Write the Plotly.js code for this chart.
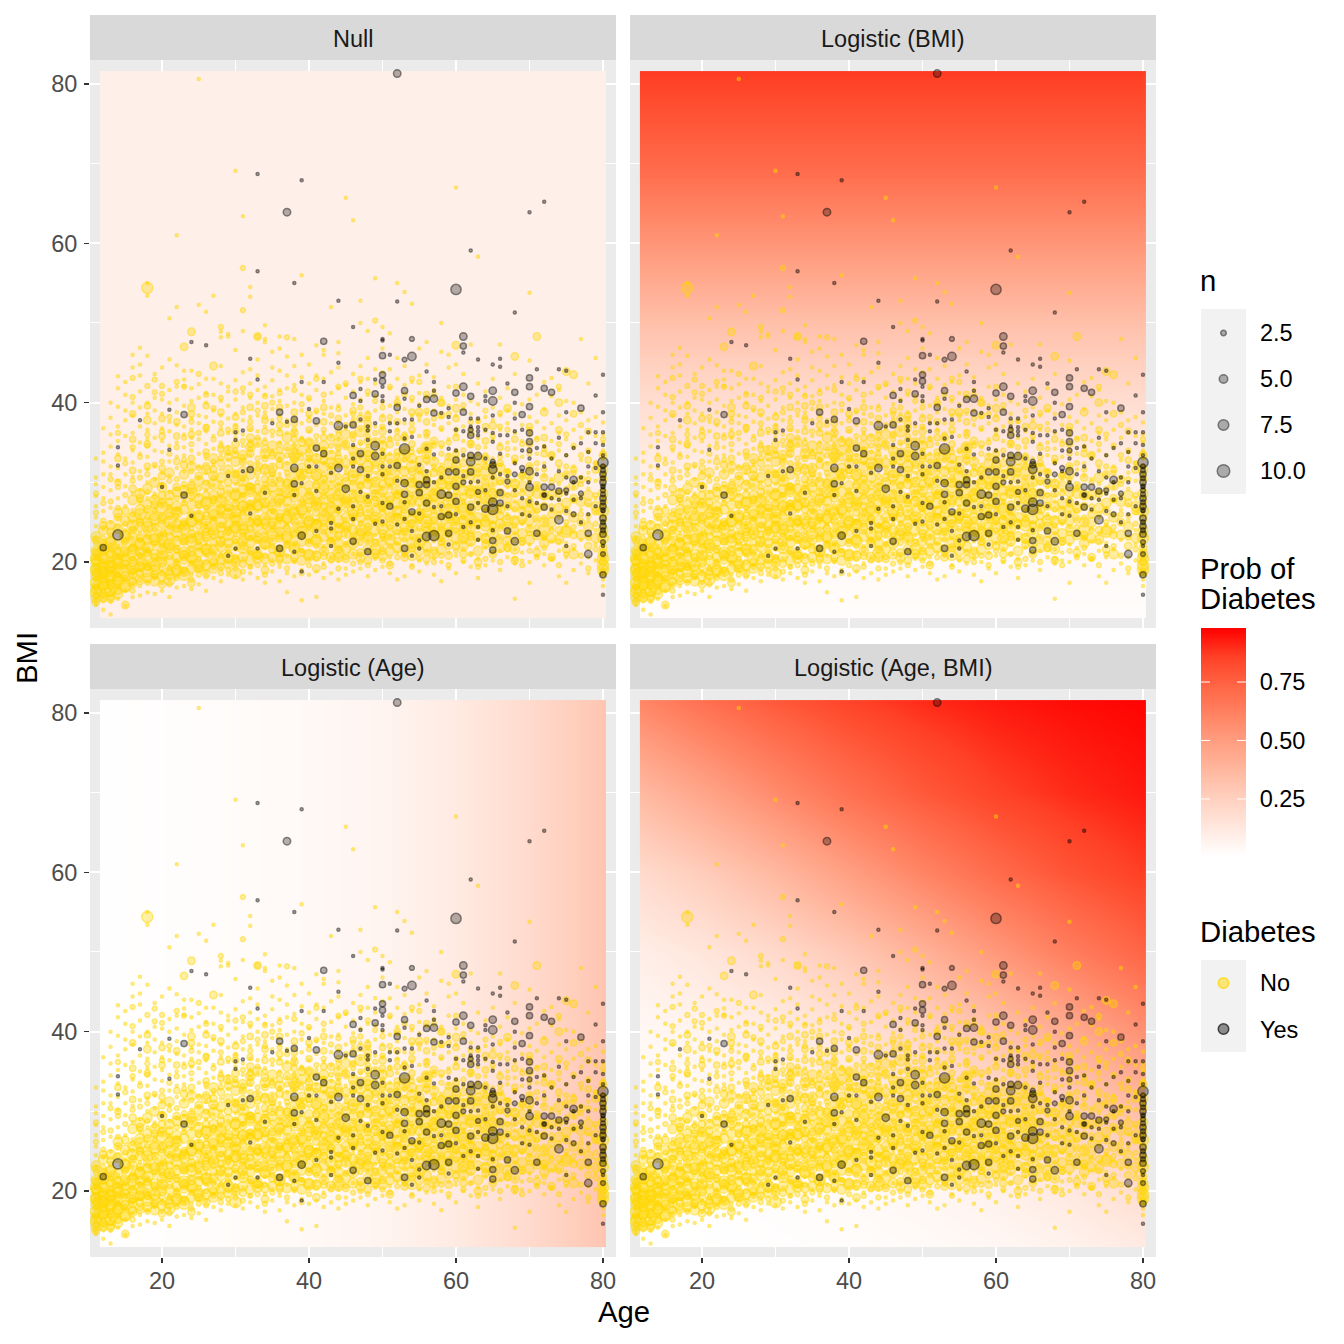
<!DOCTYPE html>
<html><head><meta charset="utf-8">
<script src="https://cdn.plot.ly/plotly-3.0.1.min.js"></script>
<style>html,body{margin:0;padding:0;background:#fff}</style></head>
<body><div id="chart" style="width:1344px;height:1344px"></div>
<script>
// Rows: [age, bmi, bmi, ...]; the array name gives the count n of each point.
const noN1 = [
[11,14.6,15.2,16.3,17.8,19,20.5,21.4,23,24.5,25.6,27,28.3,29.8,30.6,33],
[12,14,15.8,17,18.2,20,21.7,24.2,26.4,28,29.4,31,32.6,33.7,36.8],
[13,13.4,15,16.6,19.2,22.2,25,26.8,29,31,32,34.5,36,38.1,40],
[14,15.4,16.8,18.6,20.7,22,25.5,28,30.2,31.8,33.5,35.2,37,39.5,41.8,43.3],
[15,14.5,16.4,17.7,19.5,21.6,24,27,29.5,31,33,35.8,37.8,39,41,42.6],
[16,15.6,17.2,18.4,20.4,23,25,26.5,28.6,30.7,32.5,34,36.2,38.4,40,44.4,46],
[17,15.8,17,19,21,23.6,25.8,27.4,29,31.4,33.6,35,37,39.4,41.4,43.4,44.8,46.9],
[18,16.2,17.6,19.8,21.4,24.2,26.2,28,30,31.6,33.2,35.4,36.6,38.6,40,45.9,53.4,55],
[19,16,18,19.6,22,24.6,26.8,28.6,30.4,32,34,35.6,37.4,39,40.6,43.6],
[20,16.4,17.4,18.8,21.2,23.4,26,27.2,29.8,31.2,33.8,35.2,36.8,38.6,40.4,44.4],
[21,15.6,17.8,19.4,22.4,24.8,27,28.8,30.8,32.6,34.6,36.4,37.6,40,41.6,45.4,50.6],
[22,16.8,18.2,20.2,21.8,25.2,26.6,29.2,31.8,33.2,35,37.2,38.8,40.4,42,44.7,52,61],
[23,17,18.6,20.6,22.6,24.4,27.6,29.4,31.4,33.4,34.4,36,37,39.6,42.1,42.9,44],
[24,16.6,18.4,20,23.2,25.6,27.8,30.2,32.4,34,35.6,36.6,38,40.2,41.8,44],
[25,17.2,19,21.6,23.6,26.2,28.4,30.6,32,33.6,35.4,37.4,38.4,40.6,42.3,52.3,80.6],
[26,16.4,18.8,20.8,22.2,24.6,26.4,29,31.2,33,34.8,36.4,38.2,40,41.2,43,51.4],
[27,18,19.6,21.4,23.8,25.4,27.4,29.6,32.2,34.2,35.8,37.6,39,41,43,53.4],
[28,17.6,19.2,21,23,26,28.2,30,31.6,33.6,35,36.8,38.4,40.2,42.4,44.6,48.2,48.9],
[29,18.4,20,22,24.2,26.6,28.8,30.8,32.8,34.4,36.2,38,39.6,41.4,42,48.3,48.6],
[30,18.2,19.8,21.6,23.4,25.8,27.6,29.8,31.4,33.8,35.6,37.2,38.6,40.4,42.8,46.6,69.1],
[31,17.8,20.4,22.4,24.8,26.8,28.4,30.4,32.6,34.6,36,37.8,39.4,41.2,43.8,49,63.4],
[32,18.6,19.4,21.2,23.2,25.4,27.2,29.2,31.8,33.4,35.2,36.6,38.2,40.6,42.4,44.2,53.3,54.5],
[33,18,20.6,22.6,24.6,26.4,28.6,30.6,32.2,34.8,36.4,38.4,40,41.6,43.4,45.4],
[34,17.4,19.6,21.8,23.6,25.6,27.8,29.4,31.2,33.2,35.4,37,38.8,41,42,47.6,48,49.7],
[35,18.8,20.2,22.8,24.4,26.2,28,30.2,32,34,35.8,37.8,39.2,40.8,42.8,44.4,46.4],
[36,17.6,19.4,21,23,25,27,29,31,33,35,36.6,38.4,40.2,41.6,44,46.8,48.3],
[37,16.2,18.6,20.8,22.4,24.8,26.6,28.2,30.8,32.4,34.2,36.2,37.8,39.6,41.8,43.4,45.8],
[38,18.2,20,22.2,24,26,28.4,30.4,32.6,34.6,36,38,40,42.2,44.6,48],
[39,15.2,19,21.4,23.6,25.6,27.4,29.6,31.4,33.6,35.6,37.4,39,41,43.2,46,56],
[40,18.4,20.4,22.6,24.2,26.4,28.6,30.6,32.8,34.4,36.4,38.2,40.4,42.4,44.8],
[41,15.6,18.8,21.2,23.2,25.2,27.2,29.2,31.6,33.4,35.2,37.2,38.8,41.6,43.4,47.2],
[42,18,19.8,22,24.6,26.6,28.8,30.2,32.4,34.2,36.2,38.6,40.2,43,46,46.6],
[43,18.6,20.6,22.8,23.8,25.8,27.8,30,31.8,33.8,35.8,37.4,39.4,41.2,43.8,52],
[44,17.8,20.2,21.6,24.4,26.2,28.2,29.8,32.2,34,35.4,37.6,39.6,41.8,44.4,46.2,47.6],
[45,18.4,19.2,22.4,23.4,25.4,27.6,29.4,31.2,33.2,35,36.8,38.4,40.6,42.2,65.7],
[46,18.8,21,22.2,24.8,26.8,28.6,30.8,32.6,34.4,36,38,39.8,41.4,43.6,62.9],
[47,19.2,20.8,23,25,27,29,31,33,34.8,36.6,38.6,40.4,42.6,44.6,50,52.8],
[48,18.2,21.4,22.6,24.2,26.4,28.4,30.4,32.8,34.6,36.4,38.8,41,43,45.6,49],
[49,19,20.4,23.4,25.2,27.2,28.8,31.2,33.4,35.2,37,39,40.8,42.4,44.2,55.6],
[50,19.4,21.6,22.8,24.6,26.6,29.2,30.8,32.4,35,36.8,38.4,40,43.8,46.8,49.5],
[51,18.6,20.6,23.2,25.4,27.4,29.6,31.4,33.6,35.6,37.6,39.6,41.8,44.2,48.7],
[52,17.8,21.2,22.4,24.8,26.8,28.6,30.6,32.8,34.8,36.6,38.8,40.6,43,45.6,55],
[53,18.2,20.8,23.6,25.6,27.6,29.8,31.8,33.2,35.4,37.4,39.2,42.2,44.6,53.9],
[54,19.6,21.8,23,24.4,26.2,28.2,30.2,32.6,34.2,36.2,38.4,40.2,42.6,52.4],
[55,18.8,20.2,22.2,25,27,29,31.2,33.8,35.8,37.8,39.8,41.2,43.4,46.8],
[56,19.8,21.4,23.4,25.8,27.8,29.4,30.8,32.4,34.6,36.4,38.6,40.8,44.8,47.6],
[57,18.4,20.6,22.6,24.2,26.6,28.6,31.6,33,35,37.2,39,41.6,43.2],
[58,17.6,20,22.8,24.6,26.4,29.2,30.4,32.2,34.4,36.6,38.2,40.6,46.4,50],
[59,19.2,21.2,23.2,25.4,27.2,28.8,30.6,33.4,35.4,37.4,39.6,42,44.4,46],
[60,18.6,20.8,22.4,24.8,26.8,28.4,31,32.6,34,36,38.4,40.4,44.8,67],
[61,20,21.6,23.8,25.6,27.6,29.6,31.4,33.2,35.2,37,39.2,41,43.6],
[62,19.4,21,22.2,24.4,26.2,28.2,30,32.8,34.6,36.8,38.6,40.2,47.3],
[63,18,20.4,22.8,25.2,27.4,29.2,31.6,33.6,35.6,37.6,39.8,42.4,58.3],
[64,19.6,21.8,23.4,25.8,26.6,28.6,30.4,32.4,34.4,36.4,38.2,41.4],
[65,20.2,22,24.2,25,27.8,29.8,30.8,33,35.4,37.8,39.4,43],
[66,19,21.4,23,24.6,26.4,28.8,31.2,32.2,34.8,36.6,38.4,40.6,47.3],
[67,20.6,22.4,24,26,27,29.4,31.4,33.4,35,37.4,39,41.8],
[68,15.4,19.8,21.6,23.6,25.6,27.6,28.4,30.2,32.6,34.2,36.2,38.6,43.6],
[69,20.2,21.2,22.8,24.8,26.8,29,30.6,33.2,35.2,37.2,39.8],
[70,17.4,20,22.2,24.4,26.2,28,30,32,34,36,38.2,40.4,45.3,53.8],
[71,20.8,21.8,23.4,25.4,27.4,29.6,31.6,33.6,35.6,37.6,41],
[72,19.6,21,23,25,27,28.8,30.8,32.4,34.6,36.8,39.2,42.6],
[73,20.4,22.6,24.2,26.4,28.2,30.4,33,35.2,37.4,40.8,43.1],
[74,18.2,21.4,23.6,25.6,27.8,29.8,31.8,34,36.2,38.4,41.6],
[75,17.4,20.6,22.4,24.6,26.8,28.6,31,33.4,35.4,37.8,40.2],
[76,19,21.6,23.8,25.8,27.6,29.4,32,34.4,36.6,40],
[77,19.8,22.8,24.8,26.6,28.4,30.6,32.8,35.6,38.8,48],
[78,18.6,20.6,23.2,25.2,27.2,29.2,31.2,33.8,37.8,42.4],
[79,20.2,22.2,24,26.2,28,30.2,32.4,35.8,38.2,45.6],
[80,17,17.8,18.6,21,22.6,23.8,25,26.6,28.2,29.6,31,33,34,35,36,37.5]
];
const noN2 = [
[11,15.8,16.8,18,19.4,20.6,22.4,26.2,28.6],
[12,15.2,16.4,18.4,19.6,21.2,23,25.2,27.4],
[13,16,17.4,18.8,20.2,21.6,23.4,27.6,30.4],
[14,17,18.4,19.6,20.8,24.4,26.8,29.4,36.2],
[15,18,19.4,21,22.6,24.8,28.4,32.4],
[16,16.4,18.8,20.4,22.2,24.2,26,30.2,34.4,40.7,43.1],
[17,17.8,19.2,20.8,22.8,25.2,27.8,30.6,33.2],
[18,17.4,19.6,21.6,23.2,25.6,28.8,31,34.6,36,42.1],
[19,18.2,20.2,22.4,24,26.4,28.2,32.2,42.9,41.3],
[20,18.6,20.6,22,23.6,25.4,27.6,29.6,32.6,36.4,42.1,41.1],
[21,17.2,19.2,21.8,24.4,26.8,30.2,33.6,38.2],
[22,18,20,21.4,23,25.8,28,30.4,34.4,42.6],
[23,19,21.2,23.2,24.8,27.4,29.8,32.8,35.6,42],
[24,17.8,19.8,21.6,24.2,26,28.6,31.4,34.8,37.6],
[25,18.4,20.4,22.4,25,27,29.2,31.8,36.2,43.6],
[26,18.2,20,22.8,24.4,26.8,30,33.4,37,41],
[27,19.4,21,23.2,25.4,28,30.6,32.6,35.4,39.3],
[28,18.6,20.8,22.2,24.6,27,29.4,33,34.6,37.4,40.6,49.5],
[29,19,21.4,23.6,25.8,28,31.2,33.8,36.6],
[30,19.2,20.6,22.6,24.8,26.8,29,31,34,37,41.4],
[31,18.8,21.8,23.8,26.2,28.4,30.4,33.2,35.2,38.8,41.8,51.6,56.9],
[32,19.4,21.2,23,25.2,27.4,29.6,32.4,34.2,37.6,41],
[33,19.6,21.6,23.4,25.6,28,30,33,35.6,39,48.3],
[34,18.4,20.8,22.8,24.4,27.2,29.8,32,35,38.2,40.8],
[35,19.8,22,24,26.4,28.6,31,33.6,36.4,40],
[36,20,21.8,23.6,25.4,27.6,30.4,32.8,34.8,38,41.2],
[37,19.2,22.2,24.4,26.2,28.8,31.2,33.4,37.2,48.2],
[38,20.2,22.4,24.8,27,29.2,31.6,34.6,36.6,41.6],
[39,18.6,21.4,23.2,25.8,27.8,30.8,33,35.4,39.8],
[40,19.6,22.6,24.4,26.6,29,31.4,34,37.8,40.6],
[41,20.4,22,25,27.4,30,32.6,35.8,39,43],
[42,19.4,21.6,23.8,26,28.2,31,33.4,36.6,41],
[43,20.2,22.8,25.2,27.2,29.4,32.2,34.6,38.4],
[44,19.2,23,24.6,26.4,28.6,30.8,33.6,36,39.2,42],
[45,20.6,22.2,24.2,26.6,29,31.8,34.4,37.2,42.4],
[46,19.8,23.4,25.4,27.8,30,32.4,35.4,38.6],
[47,20,22.4,24.8,26.8,29.6,32,35,39.4,43],
[48,19.6,23.6,25.6,27.6,30.2,33,35.8,38,41.4],
[49,20.8,22.6,25,28,30.4,33.8,36.2,40.2,50.3],
[50,20.2,23.2,26.2,28.4,31,34,37,39.4],
[51,19.8,22,24.4,27.2,29.4,32.6,35.4,38.2,42],
[52,20.6,23.8,25.8,28.8,31.2,33.4,36.4,39.8],
[53,21,22.8,25.2,27.4,30,32.8,36,41],
[54,19.4,23.2,26,28.4,30.6,33.8,37.4,40.6,43],
[55,20.4,24.2,26.4,28.2,31.6,34,38.4,42.6],
[56,21.2,22.8,25,27.4,29.8,33.2,35.8,39],
[57,20,23.6,26.4,29,32,34.6,38,41],
[58,20.8,22.4,25.6,27.8,30.8,33.6,36.8,40],
[59,19.6,23.4,26.2,29.4,31.6,35,38.6],
[60,21.4,24,26.6,28.8,30.6,33,36.6,42],
[61,20.2,22.8,25.6,27.6,30.4,34,39.7],
[62,21,23.6,26,29.2,32,35,37.6],
[63,19.4,24.4,26.8,28.4,31,34.4,37.7],
[64,20.4,22.6,25.4,28,30.6,33.4,39],
[65,21.2,23.8,26.2,29,32.2,35.8],
[66,20,24.2,27,30,33.2,38.7,37],
[67,21.6,23.4,25.6,28.4,31.4,34.2,36.6],
[68,20.4,24.6,26.6,29.4,32.6],
[69,19.6,22.4,25,28.6,31,34.8],
[70,21.4,23.6,27.2,30.4,33.6,36.6],
[71,20.6,24.4,26.4,29.2,32.4,35.4],
[72,21.8,23,25.6,28.2,31.6,34.2],
[73,20.4,24,27,30,33.4],
[74,19.6,22.6,26,28.8,34.8,42],
[75,21,25,29.2,32,36],
[76,22,24.4,27.8,31.2,34.6],
[77,20.8,26,29.8,33.4,37.2],
[78,19.2,23,25.8,30.4,34],
[79,21.6,24.8,28.4,32.4],
[80,19,20.4,21.4,22.2,24.4,26,27.2,29,30.6,32,33.6,35.4]
];
const noN3 = [
[14,30,33],[16,31.5,35.4,38.6],[18,32,34.8,39.6],[20,31.8,35.8,38],[22,32.6,35.8,37.6],[24,33,36,38.6],[26,33.8,36.8,39.6],
[28,34.2,36.2,38.8],[30,33.4,36.4,38.2],[32,34.8,36.8,39.4],[34,33,36.4,37.8,39.6],[36,34,36.2,37.2,39.4],[38,33.8,35.4,37.4,38.8],
[40,33,35,36.6,38.6],[42,34,35.6,37.6,39.4],[44,34.4,36.6,38],[46,33.4,36,37.4,39],[48,33.6,36.8,38.4],[50,33,35.4,38],
[52,33.8,35.6,37.6,40],[54,34.8,36.6,38.8],[56,32.8,36.2,37.6,41],[58,31.6,34.8,38.4],[60,33.6,35.6,38],[62,33.2,36.2],
[64,32,35.2,37],[66,32.4,34.4],[68,33,35.4],[70,34.8,37],[72,33.6,35.6],[74,32.4,36.6],[76,31.6,38.6],[78,32.8,36.4]
];
const noN4 = [
[11,15,17,18.6,20,21.2,22.8],
[12,16,17.8,19,20.8,22.4,24.6],
[13,15.4,17,18.2,19.8,21,23.8],
[14,16.4,18,19.2,21.4,25.6],
[15,14.6,18.4,20.6,22.6,26.4],
[16,17.6,19,21.8,24,29.2],
[17,18.6,20,23,25,28],
[18,19.4,21.2,23.6,26.6,37.8],
[19,18.4,20.6,24.4,27.2],
[20,17.2,19.4,22.4,24.8,28.4,30.8],
[21,18.8,20.8,23.2,25.8,27.6],
[22,19.6,21.6,24.2,26.4,29.4],
[23,20.2,22.6,25,28.2,32.2,47],
[24,17.4,20.4,23.6,26,29.6,39.4,48.9],
[25,19.2,22,24.6,27.2,30.8],
[26,18.6,21.2,23.8,25.8,28.4,32],
[27,20,22.4,25.2,27.8,31.6,44.6],
[28,19.4,23.4,26,28.8,32.4],
[29,21,24,26.8,30,33.2],
[30,20.4,22.8,25.4,27.4,31,34.8],
[31,19.8,23.2,25.8,28.2,32.6],
[32,21.4,24.2,26.8,29.4,33.6,35.6],
[33,20.8,22.8,25,28,31.4,48.3],
[34,19,23.6,26.6,30.4,34.2],
[35,21.6,24.6,27.4,31.2,33.4],
[36,20.4,23,25.6,28.8,32.2],
[37,22.2,24.2,26.8,30,34.4],
[38,20.6,23.4,25.2,28,32.8,36.2],
[39,21.2,24.8,27.4,30.6,35],
[40,22.4,25.6,28.4,31.6,33.6],
[41,19.2,23.8,26.2,29.6,34.4],
[42,20.8,24.4,27,30.4,32.8],
[43,22.6,25.4,28,31.4,35.6],
[44,21.6,23.4,26.6,29.4,33],
[45,20.4,24.6,27.6,30.6,34.8],
[46,22.8,25.6,28.6,32.6],
[47,21.2,23.8,26.2,29.6,33.8,38],
[48,20.2,24.4,27.4,30.6,35.2,37.4],
[49,22.4,25.4,28.6,32.2],
[50,21.4,23.6,26.8,29.8,33.4,36.4],
[51,19.6,24.6,27.8,31.4,34.8],
[52,22.6,25.6,28.4,32.4],
[53,20.6,23.8,26.6,30.4,35.6],
[54,21.8,24.8,27.4,31.4],
[55,23,25.4,28.8,32.8,38.8],
[56,20.4,24,26.8,30.2,34.4],
[57,21.4,25.2,28,31.2,35.2],
[58,22.6,24.6,27,30.2,40],
[59,20.8,23.8,26.8,29.6,33.2],
[60,22,25.2,27.4,31.6,39.3,47.2],
[61,21,24.4,28.2,32.4],
[62,23.2,25,27.2,30.8,34.8],
[63,20,24.8,27.8,31.8],
[64,22.2,26.2,29.6,33],
[65,21,24.6,28,30.8,37.1],
[66,23,25.8,30.2],
[67,21.8,27,31.2,39.3],
[68,20.2,24,28.6,45.8],
[69,22.6,26.4,30.8],
[70,24.2,27.6,32],
[71,21.2,25.4,29.6,48.3],
[72,23.4,27,30.6,38.8],
[73,20.6,26,33.4],
[74,24,28.6,40],
[75,21.6,26.4,31,43.9],
[76,23.4,28,43.5],
[77,25,30.4],
[78,22,27.4],
[79,26.4,31.6],
[80,18.6,20,21.8,23.4,25.4,27.6,30.4,33.4]
];
const noN6 = [
[11,15.5,16.6,18.2,19.2,20.2,21.4,23.2],[12,15.6,17,18,19.4,20.4,22,24],[13,15.8,17.2,18.8,20,21.2,22.6,24.6],
[14,16,17.6,19,20.4,22.2,24.2,26.2],[15,16.8,18.2,19.6,21.4,23.4,25.2],[16,17.4,18.6,20,21.6,23.2,25.6,27.8],
[17,17.8,19.4,21.2,22.4,24.4,26.6,28.6],[18,18,19.6,20.8,22.8,25,27.2,29.2],[19,17.6,19,21,23,25.8,27.8,30],
[20,18.2,20,21.6,23.6,25.4,27.4,29.4],[21,18.4,20.2,21.8,24,26.2,28.4,31.2],[22,19,20.6,22.6,24.8,27,28.8],
[23,18.8,20.8,22.8,24.6,26.6,29,31],[24,19.2,21.4,23,25,27.2,29.2,32],[25,19.8,21.2,23.4,25.6,28,30.2],
[26,19.6,21.6,23.2,25.2,27.6,29.6,31.6],[27,19.2,21.6,24,26,28.4,30.8,33],[28,20.2,22.6,24.4,26.6,28,30.6],
[29,19.8,22.4,24.6,27,29,31.6,34],[30,20,22,24.2,26.2,28.4,30.4,32.6],[31,20.6,22.6,24.6,27,29.2,31.4,33.4],
[32,20.2,22.4,25,27.2,28.8,31,34.4],[33,21,23.2,25.2,27,29.2,32,35],[34,20.4,22.2,24.8,27.4,29,31.6,33.6],
[35,20.6,22.8,25,27,29.4,31.8,34.6],[36,21.2,23.8,26,28,30,33.2],[37,20.4,23,25.4,27.6,29.8,32,35.6],
[38,21.6,23.8,26.4,28.6,30.8,33.2],[39,20.2,22.6,24.4,26.4,28.8,31.8,34],[40,21,23.4,25.2,27.4,29.6,32.4,35],
[41,20.8,22.8,24.8,27,28.4,30.8,33],[42,21.4,23.2,25.4,27.8,29.6,32,34.6],[43,20.6,22.4,24.6,26.4,28.6,30.6,33.4],
[44,20.6,22.4,24.2,27.4,29.8,32.4,35],[45,21.6,23.6,25.6,28,30,32.4,36],[46,21,24,26,27.4,29.4,31.2,34],
[47,20.6,23.4,25.6,27.8,30.4,32.8],[48,21.6,23.2,25,28,29.8,31.4,33.8],[49,21,24,26.4,27.6,30,32.6,35],
[50,20.8,22.6,25.2,27.2,29,31.8,34.6],[51,21.4,23.4,25.6,28.2,30,33],[52,21.8,24,26.4,27.4,30.2,32],
[53,21.6,24.4,26,28.6,31.4,34],[54,20.8,22.4,25.4,27.8,30,33],[55,21.4,23.6,25.8,27.6,29.6,31.8],
[56,22,24.4,26.2,28.6,31,33.6],[57,21,23.4,25.6,27.2,29.6,32.6],[58,21.6,23.8,26,28.6,31.4],
[59,22.2,24.4,25.8,28.2,30.4,32.4],[60,23,25.8,28,29.6,32],[61,22,23.8,25.2,26.8,29,31],
[62,22.6,24.2,26.6,28.6,31.4],[63,21.4,23.2,25.6,29,30.4,32.8],[64,23,25,27,29.2,31.4],
[65,22.4,25.4,28.6,30,31.8],[66,21.8,24.8,26.6,28.6,31.8],[67,22.6,24.4,28,30],[68,21.6,23,25.2,27,29.8],
[69,23.6,25.4,27.4,29.6],[70,22.8,25.2,28.8,31],[71,23.4,26.8,28.6],[72,22.4,25,28.4],[73,23,25,28.4],
[74,22.8,26.8,30.6],[75,24,27.4],[76,21,25.6,29.6],[77,23.4,27.6],[78,24.4,28.4],[79,23,27],[80,21,24,28.6,31.6]
];
const noN8 = [
[11,16.2,17.4,19,20.4],
[12,17.2,18.6,19.6,21.6],
[13,16.4,18.2,19.4,22.4],
[14,17.8,19.8,21],
[15,17,20.2,23.2],
[16,19.2,21.4,24.6],
[17,20.4,22.2,26],
[18,18.8,21.8,24.4,54.4],
[19,19.6,22.8,25.4],
[20,20.8,23,26.8],
[21,17.8,22.2,25],
[22,19,23.8,26.2],
[23,18.4,21.2,24.2],
[24,20.6,22.6,25.2,28.6],
[25,19.4,23,25.8],
[26,21.6,24.4,27.4],
[27,20.4,23.6,26.4,29.8],
[28,22,25,27.6],
[29,20.6,23.4,26],
[30,18.6,24.4,25.6,28.4],
[31,21.8,24,27,30.2],
[32,23.4,26.4,29.2],
[33,20.6,24.6,27.2],
[34,22.4,25.4,28.6],
[35,23.6,26,30.2],
[36,21.4,24.8,27.8],
[37,23.2,25.6,28.8],
[38,21.8,26,29.6,33.6],
[39,23.8,26.6,31],
[40,20.8,25,28],
[41,22.6,24.6,27.4,31],
[42,25.8,29.2],
[43,23.6,26.8,32.4],
[44,21.2,25.2,28.4],
[45,24.4,27.6],
[46,22.4,26.4,30.8],
[47,24,28.2,36.4],
[48,23,26.4,32],
[49,21.6,25.6,29.2],
[50,24.2,27.6,31],
[51,22.8,26.4,30.4],
[52,25.4,28.8],
[53,23.4,27.4,33.4],
[54,24.6,29.4,32],
[55,22.4,26,30.6],
[56,25,27.8,34.4],
[57,24.2,28.4],
[58,23.4,29.8],
[59,25.6,27.4],
[60,24.4,30],
[61,23,26.6],
[62,25.4,29],
[64,24.6,28],
[65,23.6,27],
[67,25.2],
[70,26.4],
[72,24],
[75,23.8],
[80,19,19.6,20.4,23,26.4]
];
const yesN1 = [
[14,34.4,32.1],[17,37.8],[20,29.4],[21,39.1,34.1],[24,47.6,25.8],[26,47.2],[29,30.8,20.8],
[30,36.3,35.3,21.7],[31,36.5,31.4],[32,45.5,26.1],[33,68.7,56.5,42.9,21.7],[34,28.7],[35,37.4],
[37,37.6],[38,55,28.4,21.3],[39,67.9,42.6,29.9,18.8],[40,39.2,32],[41,32,28.9,23.9],[42,42.6],
[43,31.2,24.9,24.2,22],[44,52.8,45,26.7],[45,37],[46,49.5,34.7,33,32,27,25.4],[47,41.7,40.2,37.9,28.8],
[48,37,36.5,35.3,30.8,28.2],[49,42.9,37.4,24.8],[50,48,47.8,42,40.8,40.2,33.6,32,31,27.4,25.1],
[51,46,37.4,36.4,32],[52,52.7,37.4,24.7,30.2],[53,40.5,37.9,35.5,27.5,25.4],[54,37.9,35.7,23.9,20.8],
[55,39.6,32.2,26.1,22.7,21.7],[56,43.9,34.2,31.4],[57,42.6,41.5,33.5,26.9,30],[58,38.7,30.6,27],
[59,39.3,38.2,34.2,22.2],[60,36.6,34,26],[61,46.3,36.4,33.4,30.8,24.4],[62,59.1,38,37,30,25],
[63,45.4,38,36.9,36.4,35.9,30.1,27.4,24.4,22.8],[64,40.8,40.2,36.6,33,29],[65,44.8,38.4,36.2,35.1,30.6,24],
[66,45.5,44.5,35.9,33.6,31],[67,42.4,35.9,30.8,27],[68,51.3,40,38,36.4,32.4,29],[69,36.6,34,31.4,28,26],
[70,63.9,33,30,27.6,25.8],[71,44.2,34.3,31,27.4],[72,65.2,34.5,32,28.4],[73,33,28,26.6],[74,44.2,35.6,31.4,27.8],
[75,44,38.8,33.4,30.6,28.6,26.4,22],[76,34.3,30,27.8],[77,34.9,30.6,28,25],[78,36.3,33.8,32,30,26],
[79,40.9,36.3,34.9,31.8,27],[80,43.5,38.8,36.3,34.7,33.4,29.4,26.4,22,15.9]
];
const yesN2 = [
[53,45.4],[54,48],[61,30],[62,36.6],[63,28.8],[65,32.6],[67,30.1],[68,31],[69,31.8],[70,34],[72,28.4],
[75,29],[76,26],[77,28.6],[80,32,31.5,30.5,29.5,29,28.5,27.5,26.5,25,24,22.5,21]
];
const yesN3 = [
[12,21.8],[23,38.5,28.4],[32,31.6],[36,38.8,21.7],[38,37.9,29.8],[41,37.7,34.3],[42,47.7,33.6],
[46,40.9,37.2,22.6],[47,33.6,31.6],[48,21.3],[49,41.1],[50,45.9,43.5,42.7],[51,27],[52,39.4,32.1],
[53,41.5,28.5,21.7],[54,26.3],[55,29.7,28.7],[56,40.4,30.3,29.7,27.4],[57,38.7],[58,25.7],
[59,31.3,28.4,25.9,23.6],[60,41.2,32.8,31.3,29.5,27.6],[61,47.1,38.8],[62,40.8,35.9,33.4,31.3,26.9],
[65,32.2,22.7,21.5],[66,28.7,27.4],[67,23.9],[68,41.3],[69,38.5],[70,43.1,42,39.5,36.2,35.1],
[71,23.6],[72,41.8,29.4,26.9],[73,41.3,29.4],[74,28.9],[77,39.3],[78,23.6],
[80,31,30,28,27,25.5,24.5,23.5,18.4]
];
const yesN4 = [
[37,63.9],[38,31.8],[39,23.3],[44,31.8],[45,29.2],[49,33.3],[52,81.3],[53,29.9],[57,40.5],
[61,48.3,42],[63,33.3],[64,26.7],[65,41.5],[68,22.6],[70,31.4,29.4],[76,30.3],[78,21]
];
const yesN5 = [
[44,37.1],[49,34.6],[54,45.8],[56,23.2],[58,28.5],[62,32.6],[65,40.2,31.6,27.5],[74,25.3]
];
const yesN7 = [[14,23.4],[53,34.2],[57,23.3],[60,54.2],[65,26.6],[80,32.5]];

// Heat-map readings (probability of diabetes) per panel.
const gridAges = [11.56,20,30,40,50,60,70,80.4];
const gridBmis = [13,20,30,40,50,60,70,81.6];
const nullProb = 0.089;
const probByBmi = [0.02,0.035,0.08,0.18,0.33,0.53,0.72,0.87];
const probByAge = [0.01,0.015,0.025,0.04,0.065,0.115,0.2,0.31];
const probByAgeBmi = [
[0.005,0.007,0.012,0.019,0.030,0.047,0.074,0.115],
[0.009,0.013,0.021,0.033,0.052,0.081,0.124,0.188],
[0.020,0.029,0.046,0.073,0.112,0.168,0.246,0.347],
[0.044,0.065,0.101,0.152,0.224,0.317,0.428,0.549],
[0.096,0.137,0.204,0.292,0.399,0.516,0.632,0.736],
[0.197,0.267,0.370,0.486,0.603,0.709,0.797,0.865],
[0.360,0.456,0.574,0.684,0.777,0.849,0.900,0.936],
[0.595,0.687,0.779,0.850,0.901,0.936,0.959,0.975]
];
const panelTitles = ['Null','Logistic (BMI)','Logistic (Age)','Logistic (Age, BMI)'];
const sizeLegendN = [2.5,5,7.5,10];
const sizeLegendLabels = ['2.5','5.0','7.5','10.0'];
const diabetesLabels = ['No','Yes'];
const probTicks = [0.25,0.5,0.75];
const probBar = [0.006,0.1,0.2,0.3,0.4,0.5,0.6,0.7,0.8,0.9,0.981];

const FONT='"Liberation Sans", Arial, sans-serif';
const GOLD='rgba(255,215,0,0.5)', BLACK='rgba(0,0,0,0.42)';
const GOLD_LINE='rgba(255,215,0,0.75)', BLACK_LINE='rgba(0,0,0,0.68)';
const ZMIN=0.006, ZMAX=0.981;
const SCALE=[[0,'#FFFFFF'],[0.125,'#FFE8DF'],[0.25,'#FFD1C0'],[0.375,'#FFB8A0'],[0.5,'#FF9E81'],[0.625,'#FF8262'],[0.75,'#FF6545'],[0.875,'#FF4126'],[1,'#FF0000']];
const LW=1.5;
const px=n=>4.5+(Math.sqrt(n)-1)*4.4-LW;
const fx=p=>p/1344, fy=p=>1-p/1344;

function flatten(tiers){
  const x=[],y=[],s=[];
  tiers.forEach(([n,rows])=>rows.forEach(r=>r.slice(1).forEach(b=>{x.push(r[0]);y.push(b);s.push(px(n));})));
  return {x,y,s};
}
const noPts=flatten([[1,noN1],[2,noN2],[3,noN3],[4,noN4],[6,noN6],[8,noN8]]);
const yesPts=flatten([[1,yesN1],[2,yesN2],[3,yesN3],[4,yesN4],[5,yesN5],[7,yesN7]]);

// Tiny edge cells so that the smoothed image stops exactly at the data limits.
const pad=a=>[a[0],a[0]+0.02,...a.slice(1,-1),a[a.length-1]-0.02,a[a.length-1]];
const padV=a=>[a[0],a[0],...a.slice(1,-1),a[a.length-1],a[a.length-1]];
const X=pad(gridAges),Y=pad(gridBmis);
const zNull=Y.map(()=>X.map(()=>nullProb));
const zBmi=padV(probByBmi).map(v=>X.map(()=>v));
const zAge=Y.map(()=>padV(probByAge));
const zBoth=padV(probByAgeBmi.map(padV));
const zs=[zNull,zBmi,zAge,zBoth];

const layout={width:1344,height:1344,margin:{l:0,r:0,t:0,b:0,pad:0},autosize:false,showlegend:false,
  paper_bgcolor:'#fff',plot_bgcolor:'rgba(0,0,0,0)',font:{family:FONT},shapes:[],annotations:[]};
const panels=[[90,616,60,628],[630,1156,60,628],[90,616,689,1257],[630,1156,689,1257]];
const data=[];
panels.forEach((p,i)=>{
  const k=i+1, xn='x'+(k===1?'':k), yn='y'+(k===1?'':k);
  layout['xaxis'+(k===1?'':k)]={domain:[fx(p[0]),fx(p[1])],range:[10.2,81.77],anchor:yn,tickmode:'linear',tick0:20,dtick:20,
    showgrid:true,gridcolor:'#fff',gridwidth:2.1,zeroline:false,showline:false,fixedrange:true,
    minor:{tick0:10,dtick:10,showgrid:true,gridcolor:'#fff',gridwidth:1,ticks:''},
    ticks:i>=2?'outside':'',ticklen:5,ticklabelstandoff:-2,tickwidth:1.4,tickcolor:'#333333',showticklabels:i>=2,
    tickfont:{size:23.5,color:'#4D4D4D',family:FONT}};
  layout['yaxis'+(k===1?'':k)]={domain:[fy(p[3]),fy(p[2])],range:[11.72,83],anchor:xn,tickmode:'linear',tick0:20,dtick:20,
    showgrid:true,gridcolor:'#fff',gridwidth:2.1,zeroline:false,showline:false,fixedrange:true,
    minor:{tick0:10,dtick:10,showgrid:true,gridcolor:'#fff',gridwidth:1,ticks:''},
    ticks:i%2===0?'outside':'',ticklen:5,ticklabelstandoff:2,tickwidth:1.4,tickcolor:'#333333',showticklabels:i%2===0,
    tickfont:{size:23.5,color:'#4D4D4D',family:FONT}};
  layout.shapes.push({type:'rect',xref:'paper',yref:'paper',x0:fx(p[0]),x1:fx(p[1]),y0:fy(p[3]),y1:fy(p[2]),fillcolor:'#EBEBEB',line:{width:0},layer:'below'});
  layout.shapes.push({type:'rect',xref:'paper',yref:'paper',x0:fx(p[0]),x1:fx(p[1]),y0:fy(p[2]),y1:fy(p[2]-45),fillcolor:'#D9D9D9',line:{width:0},layer:'below'});
  layout.annotations.push({text:panelTitles[i],xref:'paper',yref:'paper',x:fx((p[0]+p[1])/2),y:fy(p[2]-21.5),xanchor:'center',yanchor:'middle',showarrow:false,font:{size:23.5,color:'#1A1A1A',family:FONT}});
  data.push({type:'heatmap',x:X,y:Y,z:zs[i],zmin:ZMIN,zmax:ZMAX,zsmooth:'best',colorscale:SCALE,showscale:false,xaxis:xn,yaxis:yn,hoverinfo:'skip'});
  data.push({type:'scatter',mode:'markers',x:noPts.x,y:noPts.y,xaxis:xn,yaxis:yn,hoverinfo:'skip',cliponaxis:true,
    marker:{color:GOLD,size:noPts.s,line:{color:GOLD_LINE,width:LW}}});
  data.push({type:'scatter',mode:'markers',x:yesPts.x,y:yesPts.y,xaxis:xn,yaxis:yn,hoverinfo:'skip',cliponaxis:true,
    marker:{color:BLACK,size:yesPts.s,line:{color:BLACK_LINE,width:LW}}});
});
// Size legend
layout.xaxis5={domain:[fx(1201),fx(1246)],range:[0,1],anchor:'y5',visible:false,fixedrange:true};
layout.yaxis5={domain:[fy(494),fy(309)],range:[11.25,1.196],anchor:'x5',visible:false,fixedrange:true};
layout.shapes.push({type:'rect',xref:'paper',yref:'paper',x0:fx(1201),x1:fx(1246),y0:fy(494),y1:fy(309),fillcolor:'#F2F2F2',line:{width:0},layer:'below'});
data.push({type:'scatter',mode:'markers',x:sizeLegendN.map(()=>0.5),y:sizeLegendN,xaxis:'x5',yaxis:'y5',hoverinfo:'skip',
  marker:{color:BLACK,size:sizeLegendN.map(px),line:{color:BLACK_LINE,width:LW}}});
// Diabetes legend
layout.xaxis6={domain:[fx(1201),fx(1246)],range:[0,1],anchor:'y6',visible:false,fixedrange:true};
layout.yaxis6={domain:[fy(1052),fy(960)],range:[1.5,-0.5],anchor:'x6',visible:false,fixedrange:true};
layout.shapes.push({type:'rect',xref:'paper',yref:'paper',x0:fx(1201),x1:fx(1246),y0:fy(1052),y1:fy(960),fillcolor:'#F2F2F2',line:{width:0},layer:'below'});
data.push({type:'scatter',mode:'markers',x:[0.5,0.5],y:[0,1],xaxis:'x6',yaxis:'y6',hoverinfo:'skip',
  marker:{color:[GOLD,BLACK],size:10.5,line:{color:[GOLD_LINE,BLACK_LINE],width:LW}}});
// Probability legend
layout.xaxis7={domain:[fx(1201),fx(1246)],range:[0,1],anchor:'y7',visible:false,fixedrange:true};
layout.yaxis7={domain:[fy(856),fy(628)],range:[ZMIN,ZMAX],anchor:'x7',side:'right',showgrid:false,zeroline:false,showline:false,fixedrange:true,
  tickmode:'array',tickvals:probTicks,ticktext:probTicks.map(v=>v.toFixed(2)),ticks:'outside',ticklen:8,tickcolor:'rgba(0,0,0,0)',
  tickfont:{size:23.5,color:'#000',family:FONT}};
data.push({type:'heatmap',x:[0,1],y:probBar,z:probBar.map(v=>[v,v]),zmin:ZMIN,zmax:ZMAX,zsmooth:'best',colorscale:SCALE,showscale:false,xaxis:'x7',yaxis:'y7',hoverinfo:'skip'});
probTicks.forEach(v=>{
  [[0,0.2],[0.8,1]].forEach(e=>layout.shapes.push({type:'line',xref:'x7',yref:'y7',x0:e[0],x1:e[1],y0:v,y1:v,line:{color:'#fff',width:1},layer:'above'}));
});
// Text labels
const ann=(text,x,y,size,opts)=>layout.annotations.push(Object.assign({text,xref:'paper',yref:'paper',x:fx(x),y:fy(y),xanchor:'left',yanchor:'middle',showarrow:false,font:{size,color:'#000',family:FONT}},opts||{}));
ann('Age',623.5,1311,29.3,{xanchor:'center'});
ann('BMI',27,658,29.3,{xanchor:'center',textangle:-90});
ann('n',1198,280,29.3);
ann('Prob of',1198,568,29.3);
ann('Diabetes',1198,598,29.3);
ann('Diabetes',1198,931,29.3);
sizeLegendLabels.forEach((t,i)=>ann(t,1258,333+i*46,23.5));
diabetesLabels.forEach((t,i)=>ann(t,1258,983+i*46.5,23.5));
Plotly.newPlot('chart',data,layout,{staticPlot:true,displayModeBar:false});
</script></body></html>
